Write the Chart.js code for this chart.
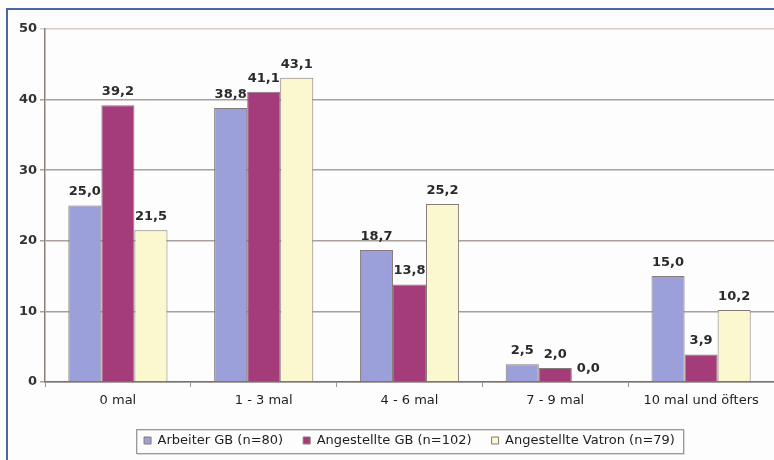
<!DOCTYPE html>
<html>
<head>
<meta charset="utf-8">
<title>Häufigkeit</title>
<script src="https://cdn.jsdelivr.net/npm/chart.js@4"></script>
<style>
  html, body { margin: 0; padding: 0; background: #fff; }
  #wrap { width: 774px; height: 460px; }
</style>
</head>
<body>
<div id="wrap"><canvas id="chart" width="774" height="460"></canvas></div>
<script>
// Kategorien und Werte (Prozent)
const kategorien = ['0 mal', '1 - 3 mal', '4 - 6 mal', '7 - 9 mal', '10 mal und öfters'];
const arbeiterGB = [25.0, 38.8, 18.7, 2.5, 15.0];
const angestellteGB = [39.2, 41.1, 13.8, 2.0, 3.9];
const angestellteVatron = [21.5, 43.1, 25.2, 0.0, 10.2];
const serienNamen = ['Arbeiter GB (n=80)', 'Angestellte GB (n=102)', 'Angestellte Vatron (n=79)'];
const yTicks = [0, 10, 20, 30, 40, 50];

const schrift = '"DejaVu Sans", sans-serif';

// Hintergrund und blauer Rahmen links/oben
const rahmen = {
  id: 'rahmen',
  beforeDraw(chart) {
    const c = chart.ctx;
    c.save();
    c.fillStyle = '#fdfdfd';
    c.fillRect(0, 0, chart.width, chart.height);
    c.strokeStyle = '#4c66ae';
    c.lineWidth = 2;
    c.beginPath();
    c.moveTo(7, chart.height);
    c.lineTo(7, 9);
    c.lineTo(chart.width, 9);
    c.stroke();
    c.restore();
  }
};

// Werte über den Balken (mit Komma)
const werte = {
  id: 'werte',
  afterDatasetsDraw(chart) {
    const c = chart.ctx;
    c.save();
    c.font = 'bold 13px ' + schrift;
    c.fillStyle = '#2a2a2a';
    c.textAlign = 'center';
    c.textBaseline = 'bottom';
    chart.data.datasets.forEach((ds, i) => {
      chart.getDatasetMeta(i).data.forEach((bar, j) => {
        c.fillText(ds.data[j].toFixed(1).replace('.', ','), bar.x, bar.y - 7);
      });
    });
    c.restore();
  }
};

// Rahmen um die Legende
const legendenRahmen = {
  id: 'legendenRahmen',
  afterDraw(chart) {
    const hb = chart.legend.legendHitBoxes;
    if (!hb || !hb.length) return;
    const first = hb[0], last = hb[hb.length - 1];
    const x0 = Math.round(first.left - 8);
    const x1 = Math.round(last.left + last.width + 8);
    const yc = first.top + first.height / 2;
    const y0 = Math.round(yc - 12);
    const c = chart.ctx;
    c.save();
    c.lineWidth = 1;
    c.strokeStyle = '#d8d8d8';
    c.strokeRect(x0 + 1.5, y0 + 1.5, x1 - x0, 24);
    c.strokeStyle = '#9a9a9a';
    c.strokeRect(x0 + 0.5, y0 + 0.5, x1 - x0, 24);
    c.restore();
  }
};

const rand = '#857a78';

new Chart(document.getElementById('chart'), {
  type: 'bar',
  data: {
    labels: kategorien,
    datasets: [
      { label: serienNamen[0], data: arbeiterGB, backgroundColor: '#9ca0da', borderColor: rand, borderWidth: 1 },
      { label: serienNamen[1], data: angestellteGB, backgroundColor: '#a53c7a', borderColor: rand, borderWidth: 1 },
      { label: serienNamen[2], data: angestellteVatron, backgroundColor: '#fbf8cf', borderColor: rand, borderWidth: 1 }
    ]
  },
  options: {
    responsive: false,
    animation: false,
    categoryPercentage: 0.68,
    barPercentage: 1.0,
    layout: { padding: { top: 29, left: 0, right: 0, bottom: 3 } },
    scales: {
      x: {
        grid: { drawOnChartArea: false, drawTicks: true, tickLength: 5, color: '#999', offset: true },
        border: { color: '#7a726e', width: 1.5 },
        ticks: { font: { family: schrift, size: 13 }, color: '#1e1e1e', padding: 6 },
        afterFit: s => { s.height = 32; }
      },
      y: {
        min: 0,
        max: 50,
        afterBuildTicks: s => { s.ticks = yTicks.map(v => ({ value: v })); },
        grid: {
          color: ctx => ctx.tick && ctx.tick.value === 50 ? '#d6ccc8' : '#a9a09b',
          lineWidth: 1.5,
          tickLength: 5
        },
        border: { color: '#8a807b', width: 1.5 },
        ticks: { font: { family: schrift, size: 13, weight: 'bold' }, color: '#333', padding: 3 },
        afterFit: s => { s.width = 45; }
      }
    },
    plugins: {
      legend: {
        position: 'bottom',
        fullSize: false,
        labels: {
          boxWidth: 7,
          boxHeight: 7,
          padding: 20,
          font: { family: schrift, size: 13 },
          color: '#1e1e1e'
        }
      },
      tooltip: { enabled: false }
    }
  },
  plugins: [rahmen, werte, legendenRahmen]
});
</script>
</body>
</html>
